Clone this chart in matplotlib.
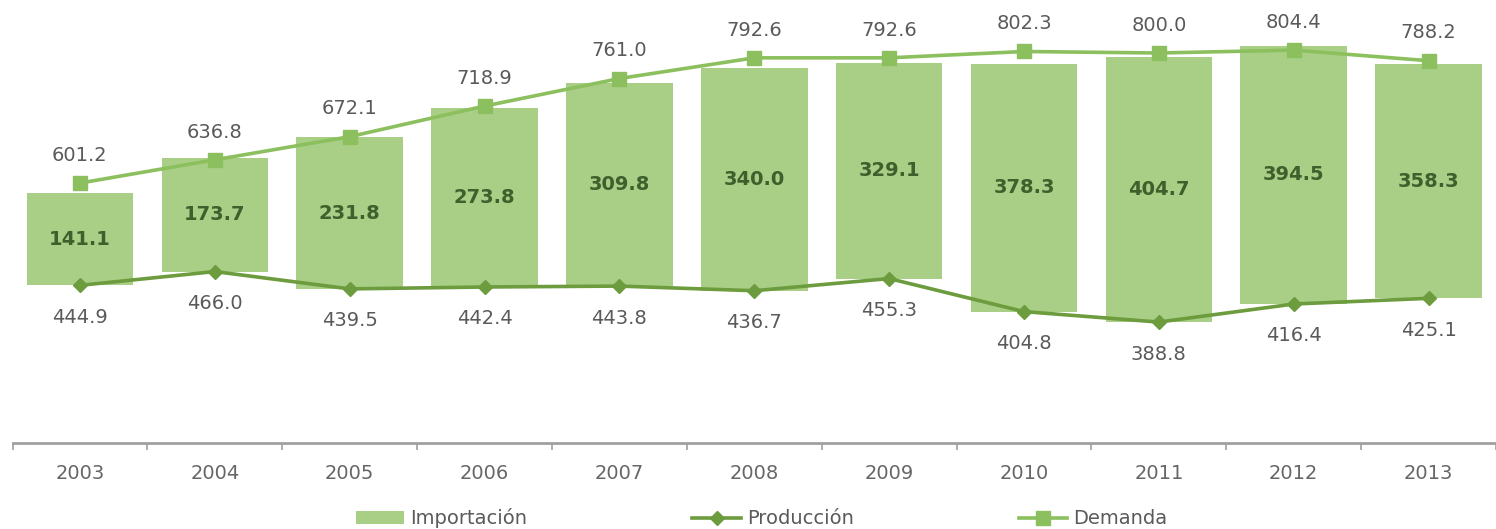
import numpy as np
import matplotlib.pyplot as plt
from matplotlib.ticker import FixedLocator

years = ['2003', '2004', '2005', '2006', '2007', '2008', '2009', '2010', '2011', '2012', '2013']
importacion = [141.1, 173.7, 231.8, 273.8, 309.8, 340.0, 329.1, 378.3, 404.7, 394.5, 358.3]
produccion = [444.9, 466.0, 439.5, 442.4, 443.8, 436.7, 455.3, 404.8, 388.8, 416.4, 425.1]
demanda = [601.2, 636.8, 672.1, 718.9, 761.0, 792.6, 792.6, 802.3, 800.0, 804.4, 788.2]

bar_color = '#a9cf86'
prod_color = '#6c9c3e'
dem_color = '#8cc05e'
txt_color = '#5a5a5a'

plt.rcParams['font.family'] = ['DejaVu Sans']

fig = plt.figure(figsize=(14.96, 5.29), dpi=100)
ax = fig.add_axes([12.5 / 1496, 86 / 529, 1 - 12.5 / 1496, 443 / 529])
x = np.arange(len(years))

# bars sit on top of production
ax.bar(x, importacion, bottom=produccion, width=0.79, color=bar_color, zorder=1,
       label='Importación')
ax.plot(x, produccion, color=prod_color, lw=2.6, marker='D', ms=7, zorder=3, label='Producción')
ax.plot(x, demanda, color=dem_color, lw=2.6, marker='s', ms=10, zorder=3, label='Demanda')

for i in range(len(years)):
    ax.annotate(f'{demanda[i]:.1f}', (x[i], demanda[i]), xytext=(0, 20), textcoords='offset points',
                ha='center', va='center', fontsize=14, color=txt_color)
    ax.annotate(f'{produccion[i]:.1f}', (x[i], produccion[i]), xytext=(0, -23), textcoords='offset points',
                ha='center', va='center', fontsize=14, color=txt_color)
    ax.text(x[i], produccion[i] + importacion[i] / 2, f'{importacion[i]:.1f}', ha='center', va='center',
            fontsize=14, color='#3f5f2c', fontweight='bold')

ax.set_xlim(-0.5, len(years) - 0.5)
ax.set_ylim(204, 881)
ax.set_yticks([])
for s in ['top', 'right', 'left']:
    ax.spines[s].set_visible(False)
ax.spines['bottom'].set_color('#a0a0a0')
ax.spines['bottom'].set_linewidth(2)

ax.set_xticks(x)
ax.set_xticklabels(years)
ax.tick_params(axis='x', which='major', length=0, pad=15, labelsize=14, labelcolor='#666666')
ax.xaxis.set_minor_locator(FixedLocator(np.arange(-0.5, len(years), 1.0)))
ax.tick_params(axis='x', which='minor', length=5, width=1.2, color='#a0a0a0', direction='out')

handles, labels = ax.get_legend_handles_labels()
order = [labels.index(l) for l in ['Importación', 'Producción', 'Demanda']]
fig.legend([handles[i] for i in order], [labels[i] for i in order],
           loc='lower center', bbox_to_anchor=(0.509, -0.032), ncol=3, frameon=False,
           fontsize=14, handlelength=2.5, handletextpad=0.3, columnspacing=8.5,
           labelcolor=txt_color)

plt.savefig('out.png', dpi=100)
